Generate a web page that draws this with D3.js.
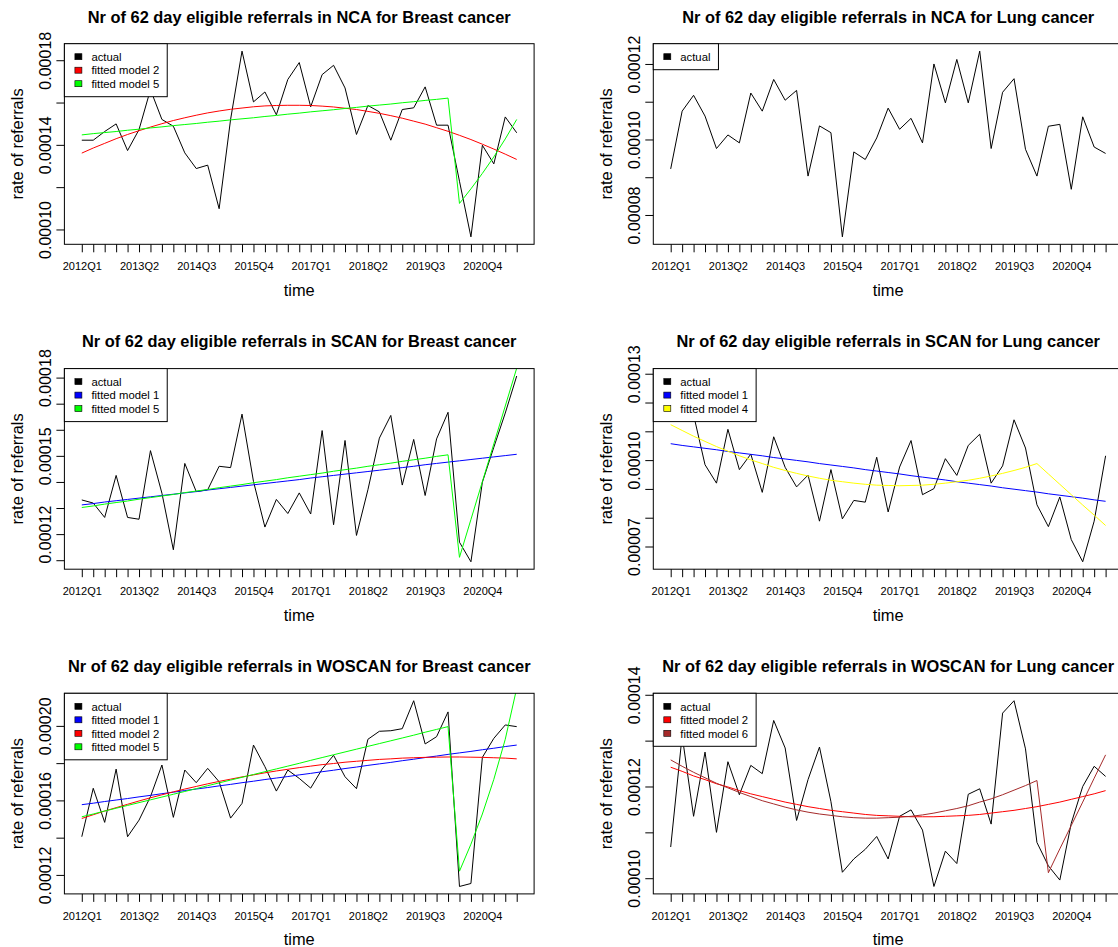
<!DOCTYPE html>
<html>
<head>
<meta charset="utf-8">
<script src="https://cdn.jsdelivr.net/npm/d3@7"></script>
<style>
  html, body { margin: 0; padding: 0; background: #fff; }
  svg { display: block; }
</style>
</head>
<body>
<script>
// ---------- categories ----------
const quarters = ["2012Q1","2012Q2","2012Q3","2012Q4","2013Q1","2013Q2","2013Q3","2013Q4",
  "2014Q1","2014Q2","2014Q3","2014Q4","2015Q1","2015Q2","2015Q3","2015Q4",
  "2016Q1","2016Q2","2016Q3","2016Q4","2017Q1","2017Q2","2017Q3","2017Q4",
  "2018Q1","2018Q2","2018Q3","2018Q4","2019Q1","2019Q2","2019Q3","2019Q4",
  "2020Q1","2020Q2","2020Q3","2020Q4","2021Q1","2021Q2","2021Q3"];
const xTickLabels = ["2012Q1","2013Q2","2014Q3","2015Q4","2017Q1","2018Q2","2019Q3","2020Q4"];

// ---------- series values (written in units of 1e-4) ----------
const U = 1e-4;
const ncaBreastActual = [1.422,1.422,1.463,1.499,1.373,1.472,1.661,1.520,1.488,1.362,1.288,1.304,1.098,1.520,1.843,1.603,1.650,1.542,1.709,1.789,1.580,1.732,1.776,1.669,1.449,1.586,1.556,1.422,1.567,1.575,1.674,1.493,1.493,1.228,0.965,1.398,1.310,1.532,1.457].map(v => v * U);
const ncaBreastModel2 = [1.361,1.385,1.407,1.429,1.449,1.467,1.484,1.500,1.515,1.528,1.540,1.551,1.560,1.568,1.574,1.580,1.584,1.586,1.587,1.587,1.586,1.583,1.579,1.573,1.567,1.558,1.549,1.538,1.526,1.512,1.498,1.481,1.464,1.445,1.425,1.403,1.380,1.356,1.331].map(v => v * U);
const ncaBreastModel5 = [1.447,1.453,1.458,1.463,1.469,1.474,1.480,1.485,1.491,1.496,1.501,1.507,1.512,1.518,1.523,1.528,1.534,1.539,1.545,1.550,1.556,1.561,1.566,1.572,1.577,1.583,1.588,1.593,1.599,1.604,1.610,1.615,1.621,1.123,1.192,1.265,1.343,1.428,1.520].map(v => v * U);

const ncaLungActual = [0.922,1.075,1.117,1.062,0.976,1.012,0.991,1.123,1.075,1.159,1.104,1.130,0.903,1.036,1.018,0.742,0.967,0.947,1.004,1.083,1.027,1.056,0.991,1.200,1.097,1.212,1.097,1.234,0.976,1.125,1.161,0.974,0.903,1.035,1.040,0.868,1.060,0.980,0.963].map(v => v * U);

const scanBreastActual = [1.331,1.319,1.264,1.425,1.264,1.257,1.520,1.357,1.140,1.471,1.363,1.370,1.460,1.455,1.660,1.402,1.227,1.333,1.279,1.358,1.277,1.597,1.236,1.559,1.195,1.370,1.568,1.655,1.388,1.563,1.348,1.565,1.667,1.169,1.094,1.399,1.533,1.664,1.806].map(v => v * U);
const scanBreastModel1 = [1.312,1.317,1.323,1.328,1.333,1.338,1.343,1.348,1.353,1.358,1.363,1.369,1.374,1.379,1.384,1.389,1.394,1.399,1.404,1.409,1.415,1.420,1.425,1.430,1.435,1.440,1.445,1.450,1.455,1.460,1.466,1.471,1.476,1.481,1.486,1.491,1.496,1.501,1.506].map(v => v * U);
const scanBreastModel5 = [1.302,1.308,1.315,1.321,1.327,1.334,1.340,1.346,1.352,1.359,1.365,1.371,1.378,1.384,1.390,1.397,1.403,1.409,1.416,1.422,1.428,1.434,1.441,1.447,1.453,1.460,1.466,1.472,1.479,1.485,1.491,1.498,1.504,1.111,1.256,1.401,1.546,1.691,1.836].map(v => v * U);

const scanLungActual = [1.201,1.292,1.157,0.984,0.920,1.107,0.967,1.021,0.888,1.081,0.975,0.907,0.948,0.788,0.967,0.796,0.860,0.854,1.010,0.820,0.976,1.068,0.880,0.901,1.005,0.947,1.051,1.090,0.920,0.980,1.140,1.042,0.845,0.769,0.872,0.724,0.647,0.788,1.015].map(v => v * U);
const scanLungModel1 = [1.057,1.051,1.046,1.041,1.036,1.030,1.025,1.020,1.015,1.009,1.004,0.999,0.994,0.988,0.983,0.978,0.973,0.967,0.962,0.957,0.952,0.946,0.941,0.936,0.931,0.925,0.920,0.915,0.910,0.904,0.899,0.894,0.889,0.883,0.878,0.873,0.868,0.862,0.857].map(v => v * U);
const scanLungModel4 = [1.123,1.103,1.083,1.065,1.047,1.031,1.015,1.001,0.988,0.975,0.964,0.954,0.945,0.937,0.930,0.925,0.920,0.916,0.913,0.912,0.911,0.912,0.913,0.916,0.920,0.925,0.930,0.937,0.945,0.954,0.964,0.975,0.988,0.952,0.916,0.880,0.844,0.809,0.773].map(v => v * U);

const woscanBreastActual = [1.405,1.665,1.482,1.768,1.405,1.494,1.620,1.790,1.509,1.763,1.695,1.772,1.700,1.505,1.584,1.897,1.781,1.650,1.763,1.718,1.666,1.768,1.842,1.727,1.663,1.928,1.971,1.974,1.985,2.135,1.903,1.942,2.075,1.138,1.154,1.831,1.933,2.005,1.996].map(v => v * U);
const woscanBreastModel1 = [1.577,1.585,1.594,1.602,1.610,1.619,1.627,1.636,1.644,1.653,1.661,1.669,1.678,1.686,1.695,1.703,1.712,1.720,1.728,1.737,1.745,1.754,1.762,1.771,1.779,1.788,1.796,1.804,1.813,1.821,1.830,1.838,1.847,1.855,1.863,1.872,1.880,1.889,1.897].map(v => v * U);
const woscanBreastModel2 = [1.503,1.523,1.543,1.561,1.579,1.597,1.614,1.630,1.646,1.661,1.675,1.689,1.702,1.714,1.726,1.737,1.748,1.758,1.767,1.776,1.784,1.792,1.798,1.805,1.810,1.815,1.820,1.823,1.827,1.829,1.831,1.832,1.833,1.833,1.832,1.831,1.829,1.827,1.823].map(v => v * U);
const woscanBreastModel5 = [1.512,1.527,1.543,1.558,1.573,1.588,1.603,1.618,1.633,1.648,1.663,1.679,1.694,1.709,1.724,1.739,1.754,1.769,1.784,1.799,1.815,1.830,1.845,1.860,1.875,1.890,1.905,1.920,1.935,1.950,1.966,1.981,1.996,1.220,1.365,1.527,1.713,1.928,2.202].map(v => v * U);

const woscanLungActual = [1.068,1.311,1.135,1.275,1.100,1.254,1.182,1.246,1.228,1.344,1.284,1.126,1.215,1.286,1.167,1.013,1.042,1.063,1.091,1.042,1.135,1.149,1.105,0.982,1.059,1.032,1.183,1.195,1.118,1.360,1.387,1.282,1.078,1.027,0.996,1.120,1.200,1.244,1.222].map(v => v * U);
const woscanLungModel2 = [1.242,1.233,1.223,1.215,1.206,1.199,1.191,1.184,1.178,1.172,1.166,1.161,1.156,1.152,1.148,1.145,1.142,1.139,1.137,1.136,1.135,1.134,1.134,1.134,1.135,1.136,1.137,1.139,1.142,1.145,1.148,1.152,1.156,1.161,1.166,1.172,1.178,1.184,1.191].map(v => v * U);
const woscanLungModel6 = [1.258,1.244,1.231,1.219,1.207,1.197,1.187,1.178,1.169,1.162,1.155,1.149,1.144,1.140,1.137,1.134,1.132,1.131,1.131,1.132,1.133,1.135,1.138,1.142,1.147,1.152,1.158,1.166,1.173,1.182,1.192,1.202,1.213,1.012,1.064,1.115,1.166,1.218,1.269].map(v => v * U);

// ---------- y tick values / labels per panel ----------
const ncaBreastYTicks = [0.00010,0.00012,0.00014,0.00016,0.00018];
const ncaBreastYLabels = [0.00010,0.00014,0.00018];
const ncaLungYTicks = [0.00008,0.00009,0.00010,0.00011,0.00012];
const ncaLungYLabels = [0.00008,0.00010,0.00012];
const scanBreastYTicks = [0.00011,0.00012,0.00013,0.00014,0.00015,0.00016,0.00017,0.00018];
const scanBreastYLabels = [0.00012,0.00015,0.00018];
const scanLungYTicks = [0.00007,0.00008,0.00009,0.00010,0.00011,0.00012,0.00013];
const scanLungYLabels = [0.00007,0.00010,0.00013];
const woscanBreastYTicks = [0.00012,0.00014,0.00016,0.00018,0.00020];
const woscanBreastYLabels = [0.00012,0.00016,0.00020];
const woscanLungYTicks = [0.00010,0.00011,0.00012,0.00013,0.00014];
const woscanLungYLabels = [0.00010,0.00012,0.00014];

// ---------- colours ----------
const C = { actual: "#000000", m1: "#0000FF", m2: "#FF0000", m4: "#FFFF00", m5: "#00FF00", m6: "#A52A2A" };

const panels = [
  { title: "Nr of 62 day eligible referrals in NCA for Breast cancer", col: 0, row: 0,
    actual: ncaBreastActual, yTicks: ncaBreastYTicks, yLabels: ncaBreastYLabels,
    fits: [{ name: "fitted model 2", color: C.m2, values: ncaBreastModel2 },
           { name: "fitted model 5", color: C.m5, values: ncaBreastModel5 }] },
  { title: "Nr of 62 day eligible referrals in NCA for Lung cancer", col: 1, row: 0,
    actual: ncaLungActual, yTicks: ncaLungYTicks, yLabels: ncaLungYLabels, fits: [] },
  { title: "Nr of 62 day eligible referrals in SCAN for Breast cancer", col: 0, row: 1,
    actual: scanBreastActual, yTicks: scanBreastYTicks, yLabels: scanBreastYLabels,
    fits: [{ name: "fitted model 1", color: C.m1, values: scanBreastModel1 },
           { name: "fitted model 5", color: C.m5, values: scanBreastModel5 }] },
  { title: "Nr of 62 day eligible referrals in SCAN for Lung cancer", col: 1, row: 1,
    actual: scanLungActual, yTicks: scanLungYTicks, yLabels: scanLungYLabels,
    fits: [{ name: "fitted model 1", color: C.m1, values: scanLungModel1 },
           { name: "fitted model 4", color: C.m4, values: scanLungModel4 }] },
  { title: "Nr of 62 day eligible referrals in WOSCAN for Breast cancer", col: 0, row: 2,
    actual: woscanBreastActual, yTicks: woscanBreastYTicks, yLabels: woscanBreastYLabels,
    fits: [{ name: "fitted model 1", color: C.m1, values: woscanBreastModel1 },
           { name: "fitted model 2", color: C.m2, values: woscanBreastModel2 },
           { name: "fitted model 5", color: C.m5, values: woscanBreastModel5 }] },
  { title: "Nr of 62 day eligible referrals in WOSCAN for Lung cancer", col: 1, row: 2,
    actual: woscanLungActual, yTicks: woscanLungYTicks, yLabels: woscanLungYLabels,
    fits: [{ name: "fitted model 2", color: C.m2, values: woscanLungModel2 },
           { name: "fitted model 6", color: C.m6, values: woscanLungModel6 }] }
];

// ---------- layout ----------
const WIDTH = 1118, HEIGHT = 947;
const FONT = "'Liberation Sans', Arial, Helvetica, sans-serif";
const colLeft = [64.4, 653.3], rowTop = [43.7, 368.6, 693.3];
const W = 469.7, H = 200.6;

const svg = d3.select("body").append("svg").attr("width", WIDTH).attr("height", HEIGHT)
  .attr("font-family", FONT);
svg.append("rect").attr("width", WIDTH).attr("height", HEIGHT).attr("fill", "#fff");
const defs = svg.append("defs");

panels.forEach((p, pi) => {
  const L = colLeft[p.col], T = rowTop[p.row];
  const n = quarters.length;
  const x = d3.scaleLinear().domain([-0.04 * (n - 1), (n - 1) * 1.04]).range([L, L + W]);
  const [mn, mx] = d3.extent(p.actual);
  const pad = (mx - mn) * 0.04;
  const y = d3.scaleLinear().domain([mn - pad, mx + pad]).range([T + H, T]);

  const g = svg.append("g");
  const clipId = "clip" + pi;
  defs.append("clipPath").attr("id", clipId)
    .append("rect").attr("x", L).attr("y", T).attr("width", W).attr("height", H);

  const line = d3.line().x((d, i) => x(i)).y(d => y(d));
  const lg = g.append("g").attr("clip-path", `url(#${clipId})`);
  lg.append("path").attr("d", line(p.actual)).attr("fill", "none")
    .attr("stroke", C.actual).attr("stroke-width", 1);
  p.fits.forEach(f => {
    lg.append("path").attr("d", line(f.values)).attr("fill", "none")
      .attr("stroke", f.color).attr("stroke-width", 1);
  });

  // plot box
  g.append("rect").attr("x", L).attr("y", T).attr("width", W).attr("height", H)
    .attr("fill", "none").attr("stroke", "#000").attr("stroke-width", 1);

  // y axis
  const yAxis = d3.axisLeft(y).tickValues(p.yTicks).tickSize(8).tickSizeOuter(0)
    .tickFormat(v => p.yLabels.some(l => Math.abs(l - v) < 1e-12) ? v.toFixed(5) : "");
  const ya = g.append("g").attr("transform", `translate(${L},0)`).call(yAxis);
  ya.select(".domain").remove();
  ya.attr("font-family", FONT).attr("font-size", 16);
  ya.selectAll(".tick line").attr("stroke", "#000");
  ya.selectAll(".tick text").attr("fill", "#000")
    .attr("transform", "rotate(-90)").attr("x", 0).attr("y", -13).attr("dy", 0)
    .attr("text-anchor", "middle");

  // x axis
  const xAxis = d3.axisBottom(x).tickValues(quarters.map((q, i) => i)).tickSize(8).tickSizeOuter(0)
    .tickFormat(i => xTickLabels.includes(quarters[i]) ? quarters[i] : "");
  const xa = g.append("g").attr("transform", `translate(0,${T + H})`).call(xAxis);
  xa.select(".domain").remove();
  xa.attr("font-family", FONT).attr("font-size", 11);
  xa.selectAll(".tick line").attr("stroke", "#000");
  xa.selectAll(".tick text").attr("fill", "#000").attr("y", 25.7).attr("dy", 0);

  // titles
  g.append("text").attr("x", L + W / 2).attr("y", T - 21.2).attr("text-anchor", "middle")
    .attr("font-size", 16.4).attr("font-weight", "bold").attr("fill", "#000").text(p.title);
  g.append("text").attr("x", L + W / 2).attr("y", T + H + 51.5).attr("text-anchor", "middle")
    .attr("font-size", 16.4).attr("fill", "#000").text("time");
  g.append("text").attr("transform", `translate(${L - 41},${T + H / 2}) rotate(-90)`)
    .attr("text-anchor", "middle").attr("font-size", 16.4).attr("fill", "#000")
    .text("rate of referrals");

  // legend
  const entries = [{ name: "actual", color: C.actual }].concat(p.fits);
  const leg = g.append("g");
  const bg = leg.append("rect").attr("x", L).attr("y", T).attr("fill", "#fff")
    .attr("stroke", "#000").attr("stroke-width", 1);
  let maxW = 0;
  entries.forEach((e, k) => {
    const cy = T + 13 + k * 13.5;
    leg.append("rect").attr("x", L + 10.5).attr("y", cy - 3).attr("width", 7).attr("height", 6)
      .attr("fill", e.color).attr("stroke", "#000").attr("stroke-width", 0.6);
    const t = leg.append("text").attr("x", L + 27).attr("y", cy + 4.2)
      .attr("font-size", 11.3).attr("fill", "#000").text(e.name);
    maxW = Math.max(maxW, t.node().getComputedTextLength());
  });
  bg.attr("width", 27 + maxW + 8).attr("height", entries.length * 13.5 + 12.5);
});
</script>
</body>
</html>
